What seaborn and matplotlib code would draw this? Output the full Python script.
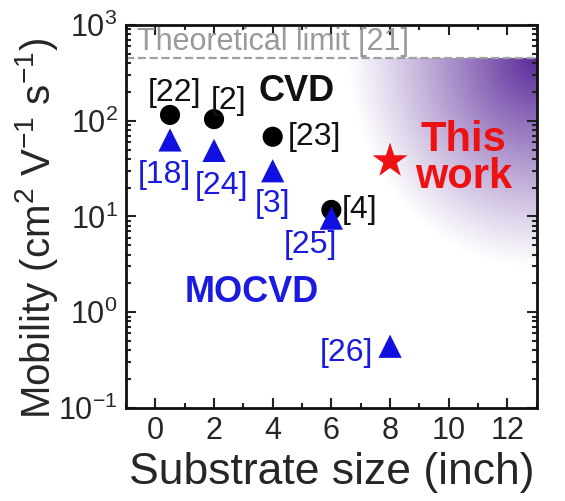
import numpy as np
import pandas as pd
import matplotlib
matplotlib.use("Agg")
import matplotlib.pyplot as plt
from matplotlib.ticker import MultipleLocator, LogLocator, NullFormatter
import seaborn as sns

# data
cvd_size = [0.5, 2, 4, 6]
cvd_mobility = [115, 104, 68, 11.7]
cvd_refs = ["[22]", "[2]", "[23]", "[4]"]

mocvd_size = [0.5, 2, 4, 6, 8]
mocvd_mobility = [63, 49, 30, 9.6, 0.44]
mocvd_refs = ["[18]", "[24]", "[3]", "[25]", "[26]"]

this_size = [8]
this_mobility = [38]

theory_limit = 450

sns.set_theme(style="ticks")
plt.rcParams['font.family'] = ['Liberation Sans', 'DejaVu Sans']
plt.rcParams['mathtext.fontset'] = 'custom'
plt.rcParams['mathtext.rm'] = 'Liberation Sans'

fig, ax = plt.subplots(figsize=(5.65, 5.01), dpi=100)
fig.subplots_adjust(left=0.223, right=0.950, top=0.950, bottom=0.186)

df_cvd = pd.DataFrame({"size": cvd_size, "mob": cvd_mobility})
df_mo = pd.DataFrame({"size": mocvd_size, "mob": mocvd_mobility})
df_this = pd.DataFrame({"size": this_size, "mob": this_mobility})

ax.set_yscale("log")
ax.set_xlim(-1, 13)
ax.set_ylim(0.1, 1000)

# purple glow in the top-right corner, under the limit line
ytop = (np.log10(theory_limit) + 1) / 4
nx, ny = 300, 300
gx = np.linspace(0.5, 1.0, nx)
gy = np.linspace(0.3, ytop, ny)
GX, GY = np.meshgrid(gx, gy)
r = np.sqrt(((1.0 - GX) / 0.46) ** 2 + ((ytop - GY) / 0.55) ** 2)
alpha = np.clip(1 - r, 0, 1) ** 1.1
img = np.zeros((ny, nx, 4))
img[..., 0] = 0.35
img[..., 1] = 0.16
img[..., 2] = 0.60
img[..., 3] = alpha
ax.imshow(img, extent=[0.5, 1.0, 0.3, ytop], origin="lower",
          transform=ax.transAxes, aspect="auto", zorder=0, interpolation="bilinear")

ax.axhline(theory_limit, color="#a0a0a0", ls="--", lw=1.6, zorder=1)
ax.text(-0.62, theory_limit * 1.04, "Theoretical limit [21]", color="#999999",
        fontsize=22, ha="left", va="bottom")

sns.scatterplot(data=df_cvd, x="size", y="mob", ax=ax, color="black",
                marker="o", s=210, edgecolor="none", zorder=3)
sns.scatterplot(data=df_mo, x="size", y="mob", ax=ax, color="#1010e0",
                marker="^", s=280, edgecolor="none", zorder=4)
sns.scatterplot(data=df_this, x="size", y="mob", ax=ax, color="#ee1111",
                marker="*", s=700, edgecolor="none", zorder=4)

fs = 23
blk = "#111111"
blu = "#1a1ae0"
ax.text(0.64, 195, cvd_refs[0], fontsize=fs, color=blk, ha="center", va="center")
ax.text(2.48, 160, cvd_refs[1], fontsize=fs, color=blk, ha="center", va="center")
ax.text(4.5, 68, cvd_refs[2], fontsize=fs, color=blk, ha="left", va="center")
ax.text(6.35, 11.7, cvd_refs[3], fontsize=fs, color=blk, ha="left", va="center")
ax.text(4.82, 200, "CVD", fontsize=26, color=blk, ha="center", va="center",
        fontweight="bold")

ax.text(0.3, 27, mocvd_refs[0], fontsize=fs, color=blu, ha="center", va="center")
ax.text(2.27, 21, mocvd_refs[1], fontsize=fs, color=blu, ha="center", va="center")
ax.text(4.0, 13.5, mocvd_refs[2], fontsize=fs, color=blu, ha="center", va="center")
ax.text(5.28, 5.0, mocvd_refs[3], fontsize=fs, color=blu, ha="center", va="center")
ax.text(6.51, 0.37, mocvd_refs[4], fontsize=fs, color=blu, ha="center", va="center")
ax.text(3.28, 1.6, "MOCVD", fontsize=26, color=blu, ha="center", va="center",
        fontweight="bold")

ax.text(10.5, 40, "This\nwork", fontsize=30, color="#ee1111", ha="center",
        va="center", fontweight="bold", linespacing=0.9)

ax.set_xlabel("Substrate size (inch)", fontsize=32, labelpad=4)
ax.set_ylabel("Mobility (cm$^2$ V$^{-1}$ s$^{-1}$)", fontsize=29)
ax.yaxis.set_label_coords(-0.16, 0.47)

ax.xaxis.set_major_locator(MultipleLocator(2))
ax.xaxis.set_minor_locator(MultipleLocator(1))
ax.yaxis.set_major_locator(LogLocator(base=10, numticks=10))
ax.yaxis.set_minor_locator(LogLocator(base=10, subs=np.arange(2, 10), numticks=10))
ax.yaxis.set_minor_formatter(NullFormatter())
ax.tick_params(which="both", direction="in", top=True, right=True,
               labelsize=22, width=1.5, color="#222222")
ax.tick_params(which="major", length=7, pad=6)
ax.tick_params(which="minor", length=3.5)
for sp in ax.spines.values():
    sp.set_linewidth(2)
    sp.set_color("#111111")

fig.savefig("out.png", dpi=100)
